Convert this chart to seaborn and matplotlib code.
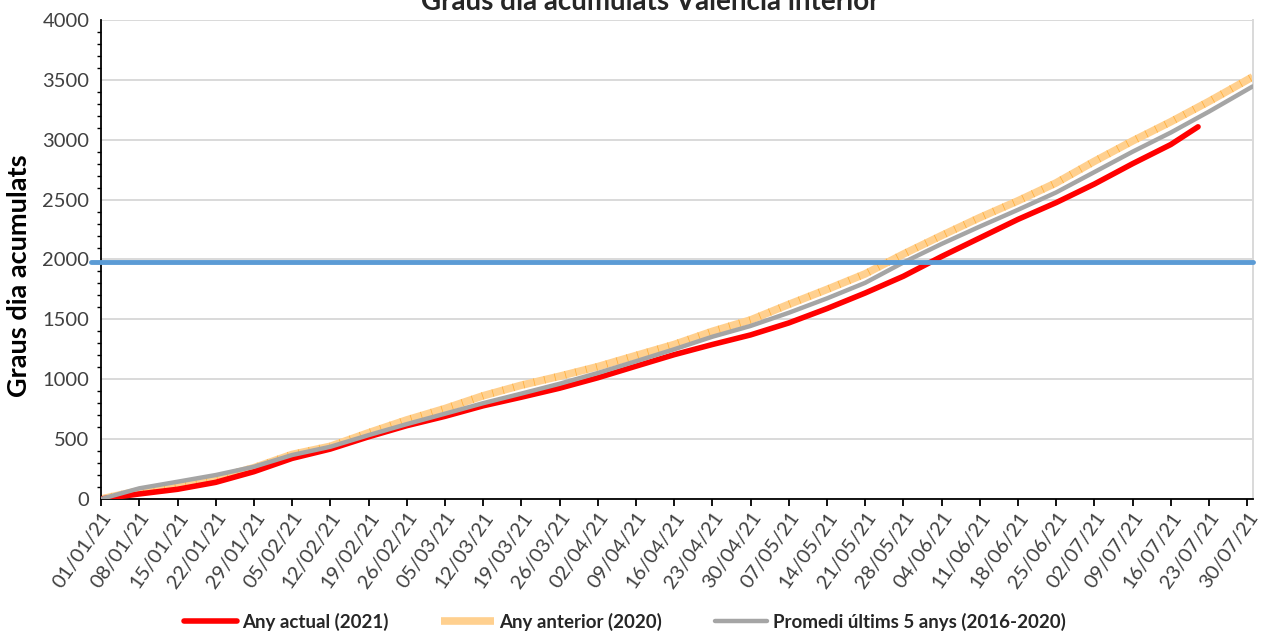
import matplotlib
matplotlib.use("Agg")
import matplotlib.pyplot as plt
import matplotlib.dates as mdates
from matplotlib.ticker import MultipleLocator
import pandas as pd
import seaborn as sns

TITLE = "Graus dia acumulats València interior"
Y_LABEL = "Graus dia acumulats"
THRESHOLD = 1980

# days since 01/01/21 and accumulated degree-days
days_2021 = [0, 7, 14, 21, 28, 35, 42, 49, 56, 63, 70, 77, 84, 91, 98, 105, 112,
             119, 126, 133, 140, 147, 154, 161, 168, 175, 182, 189, 196, 201]
gd_2021 = [0, 42, 81, 139, 228, 339, 417, 519, 612, 690, 778, 850, 925, 1012, 1109,
           1205, 1290, 1370, 1470, 1590, 1720, 1860, 2025, 2180, 2335, 2475, 2630,
           2800, 2960, 3108]

days_ref = [0, 7, 14, 21, 28, 35, 42, 49, 56, 63, 70, 77, 84, 91, 98, 105, 112,
            119, 126, 133, 140, 147, 154, 161, 168, 175, 182, 189, 196, 203, 211]
gd_2020 = [0, 69, 117, 172, 261, 372, 440, 553, 660, 755, 862, 950, 1025, 1105, 1198,
           1290, 1400, 1495, 1625, 1750, 1880, 2045, 2200, 2350, 2490, 2640, 2820,
           2990, 3150, 3320, 3525]
gd_avg = [0, 89, 144, 200, 269, 367, 436, 533, 625, 712, 800, 880, 962, 1052, 1150,
          1250, 1355, 1445, 1555, 1675, 1805, 1975, 2130, 2275, 2415, 2560, 2730,
          2900, 3060, 3235, 3445]

LABELS = ["Any actual (2021)", "Any anterior (2020)", "Promedi últims 5 anys (2016-2020)"]

start = pd.Timestamp("2021-01-01")
df_2021 = pd.DataFrame({"date": start + pd.to_timedelta(days_2021, unit="D"), "gd": gd_2021})
df_2020 = pd.DataFrame({"date": start + pd.to_timedelta(days_ref, unit="D"), "gd": gd_2020})
df_avg = pd.DataFrame({"date": start + pd.to_timedelta(days_ref, unit="D"), "gd": gd_avg})

sns.set_style("white")
plt.rcParams["font.family"] = ["Lato", "DejaVu Sans"]

fig = plt.figure(figsize=(12.64, 6.35), dpi=100)
ax = fig.add_axes([0.080, 0.2142, 0.911, 0.7543])

sns.lineplot(data=df_2021, x="date", y="gd", ax=ax, color="#FF0000", linewidth=4.0,
             solid_capstyle="round", label=LABELS[0], zorder=3)
sns.lineplot(data=df_2020, x="date", y="gd", ax=ax, color="#FFD08F", linewidth=5.5,
             solid_capstyle="butt", label=LABELS[1], zorder=2)
sns.lineplot(data=df_2020, x="date", y="gd", ax=ax, color="#FFA31A", linewidth=5.5,
             legend=False, zorder=2.1, alpha=0.75)
ax.lines[-1].set_dashes((0.1, 1.3))
ax.lines[-1].set_dash_capstyle("butt")
sns.lineplot(data=df_avg, x="date", y="gd", ax=ax, color="#A5A5A5", linewidth=3.2,
             label=LABELS[2], zorder=4)

ax.axhline(THRESHOLD, xmin=-0.009, xmax=1, color="#5B9BD5", linewidth=3.5,
           clip_on=False, zorder=5)

ax.set_xlim(pd.Timestamp("2021-01-01"), pd.Timestamp("2021-07-31"))
ax.set_ylim(0, 4000)
ax.yaxis.set_major_locator(MultipleLocator(500))
ax.yaxis.set_minor_locator(MultipleLocator(100))
ax.set_xticks(pd.date_range("2021-01-01", "2021-07-30", freq="7D"))
ax.xaxis.set_major_formatter(mdates.DateFormatter("%d/%m/%y"))

ax.grid(axis="y", color="#D9D9D9", linewidth=1.4, zorder=0)
ax.grid(axis="x", visible=False)
ax.set_axisbelow(True)

for side in ["left", "bottom"]:
    ax.spines[side].set_color("black")
    ax.spines[side].set_linewidth(1.3)
ax.spines["top"].set_visible(False)
ax.spines["right"].set_color("#D9D9D9")
ax.spines["right"].set_linewidth(1.4)

ax.tick_params(axis="both", which="major", direction="out", length=5, width=1.3,
               color="black", labelcolor="#404040", labelsize=14.5)
ax.tick_params(axis="y", which="minor", direction="out", length=3, width=1, color="black",
               left=True)
ax.tick_params(axis="x", which="major", bottom=True, pad=2)
plt.setp(ax.get_xticklabels(), rotation=55, ha="right", rotation_mode="anchor")

ax.set_xlabel("")
ax.set_ylabel(Y_LABEL, fontsize=19.5, fontweight="bold", color="black")
ax.yaxis.set_label_coords(-0.061, 0.466)

fig.text(650 / 1264, 1 - 2 / 635, TITLE, ha="center", va="center", fontsize=20,
         fontweight="bold")

handles, labels = ax.get_legend_handles_labels()
leg = ax.legend(handles, labels, loc="center", bbox_to_anchor=(625 / 1264, 1 - 622 / 635),
                bbox_transform=fig.transFigure, ncol=3, frameon=False, handlelength=2.8,
                columnspacing=2.8, handletextpad=0.3, prop={"weight": "bold", "size": 13.5})

fig.savefig("out.png", dpi=100)
